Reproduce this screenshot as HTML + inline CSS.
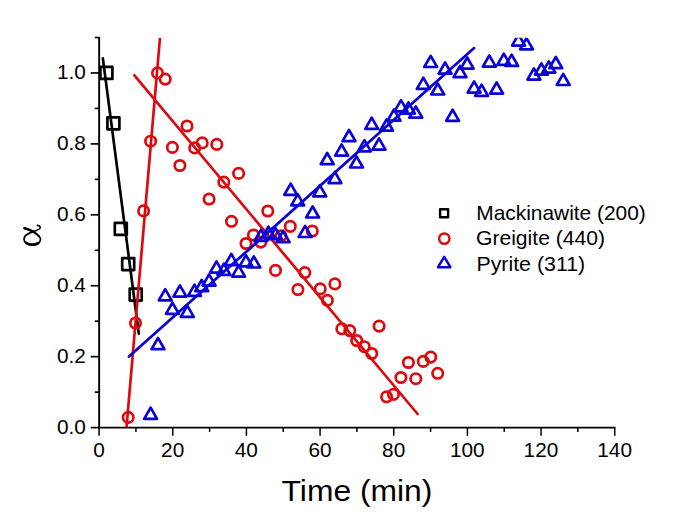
<!DOCTYPE html>
<html><head><meta charset="utf-8"><title>chart</title>
<style>
html,body{margin:0;padding:0;background:#fff;}
body{width:685px;height:525px;overflow:hidden;font-family:"Liberation Sans",sans-serif;}
svg{display:block}
text{font-family:"Liberation Sans",sans-serif;fill:#000}
</style></head><body>
<svg width="685" height="525" viewBox="0 0 685 525">
<rect width="685" height="525" fill="#fff"/>
<defs><clipPath id="pc"><rect x="98" y="37.8" width="518" height="390.7"/></clipPath></defs>

<path d="M99.15 36.9V428.50" stroke="#000" stroke-width="1.9" fill="none"/>
<path d="M98.10 427.60H615.47" stroke="#000" stroke-width="1.8" fill="none"/>
<g stroke="#000" stroke-width="1.5" fill="none">
<path d="M99.10 427.60v8.2"/>
<path d="M135.93 427.60v4.3"/>
<path d="M172.76 427.60v8.2"/>
<path d="M209.59 427.60v4.3"/>
<path d="M246.42 427.60v8.2"/>
<path d="M283.25 427.60v4.3"/>
<path d="M320.08 427.60v8.2"/>
<path d="M356.91 427.60v4.3"/>
<path d="M393.74 427.60v8.2"/>
<path d="M430.57 427.60v4.3"/>
<path d="M467.40 427.60v8.2"/>
<path d="M504.23 427.60v4.3"/>
<path d="M541.06 427.60v8.2"/>
<path d="M577.89 427.60v4.3"/>
<path d="M614.72 427.60v8.2"/>
</g>
<g stroke="#000" stroke-width="1.7" fill="none">
<path d="M99.10 427.60h-8.4"/>
<path d="M99.10 392.14h-4.3"/>
<path d="M99.10 356.67h-8.4"/>
<path d="M99.10 321.21h-4.3"/>
<path d="M99.10 285.74h-8.4"/>
<path d="M99.10 250.28h-4.3"/>
<path d="M99.10 214.81h-8.4"/>
<path d="M99.10 179.35h-4.3"/>
<path d="M99.10 143.88h-8.4"/>
<path d="M99.10 108.42h-4.3"/>
<path d="M99.10 72.95h-8.4"/>
<path d="M99.10 37.49h-4.3"/>
</g>
<text transform="translate(99.00 457.00) scale(1.03 1)" font-size="20.2" text-anchor="middle">0</text>
<text transform="translate(172.66 457.00) scale(1.03 1)" font-size="20.2" text-anchor="middle">20</text>
<text transform="translate(246.32 457.00) scale(1.03 1)" font-size="20.2" text-anchor="middle">40</text>
<text transform="translate(319.98 457.00) scale(1.03 1)" font-size="20.2" text-anchor="middle">60</text>
<text transform="translate(393.64 457.00) scale(1.03 1)" font-size="20.2" text-anchor="middle">80</text>
<text transform="translate(467.30 457.00) scale(1.03 1)" font-size="20.2" text-anchor="middle">100</text>
<text transform="translate(540.96 457.00) scale(1.03 1)" font-size="20.2" text-anchor="middle">120</text>
<text transform="translate(614.62 457.00) scale(1.03 1)" font-size="20.2" text-anchor="middle">140</text>
<text transform="translate(85.90 433.50) scale(1.03 1)" font-size="20.2" text-anchor="end">0.0</text>
<text transform="translate(85.90 362.57) scale(1.03 1)" font-size="20.2" text-anchor="end">0.2</text>
<text transform="translate(85.90 291.64) scale(1.03 1)" font-size="20.2" text-anchor="end">0.4</text>
<text transform="translate(85.90 220.71) scale(1.03 1)" font-size="20.2" text-anchor="end">0.6</text>
<text transform="translate(85.90 149.78) scale(1.03 1)" font-size="20.2" text-anchor="end">0.8</text>
<text transform="translate(85.90 78.85) scale(1.03 1)" font-size="20.2" text-anchor="end">1.0</text>
<text transform="translate(357.00 501.00) scale(1.054 1)" font-size="30.2" text-anchor="middle">Time (min)</text>
<g fill="none" stroke="#000" stroke-linecap="round" stroke-linejoin="round" role="img" aria-label="α"><title>α</title>
<path stroke-width="1.7" d="M24.2 228.2C28 229.2 32 230.9 35 232.9C38.5 235.2 40.5 237.4 40.5 239.4C40.5 242.7 36.8 244.9 32.2 244.9C27.6 244.9 24.0 242.5 24.0 239.2C24.0 236.5 26.5 234.3 30 232.9C34 231.3 38 230.4 39.8 228.5C40.8 227.3 40.2 225.7 37.3 225.4"/>
<path stroke-width="2.8" d="M38 243.2C36.2 244.3 34.2 244.6 32.2 244.6C30.2 244.6 28 244.2 26.4 243"/>
<path stroke-width="2.7" d="M24.6 228.3C27.5 229 30.5 230.2 33 231.7"/>
<path stroke-width="2.1" d="M33 231.7C35.5 233.2 37.8 234.8 39 236.3"/>
</g>
<g clip-path="url(#pc)">
<path d="M102.85 58.3L138.8 333.6" stroke="#000" stroke-width="2.7" stroke-linecap="round"/>
<rect x="100.40" y="66.90" width="12.0" height="12.0" fill="none" stroke="#000" stroke-width="2.7" stroke-linejoin="round"/>
<rect x="107.40" y="117.30" width="12.0" height="12.0" fill="none" stroke="#000" stroke-width="2.7" stroke-linejoin="round"/>
<rect x="114.80" y="222.80" width="12.0" height="12.0" fill="none" stroke="#000" stroke-width="2.7" stroke-linejoin="round"/>
<rect x="122.20" y="258.10" width="12.0" height="12.0" fill="none" stroke="#000" stroke-width="2.7" stroke-linejoin="round"/>
<rect x="129.70" y="288.60" width="12.0" height="12.0" fill="none" stroke="#000" stroke-width="2.7" stroke-linejoin="round"/>
<path d="M126.5 427.5L160 37.5" stroke="#dc0a0e" stroke-width="2.7"/>
<path d="M134.4 75.3L417.6 414.0" stroke="#dc0a0e" stroke-width="2.7" stroke-linecap="round"/>
<circle cx="128.20" cy="417.40" r="5.2" fill="none" stroke="#dc0a0e" stroke-width="2.7"/>
<circle cx="135.50" cy="323.00" r="5.2" fill="none" stroke="#dc0a0e" stroke-width="2.7"/>
<circle cx="143.60" cy="210.90" r="5.2" fill="none" stroke="#dc0a0e" stroke-width="2.7"/>
<circle cx="150.60" cy="141.20" r="5.2" fill="none" stroke="#dc0a0e" stroke-width="2.7"/>
<circle cx="157.50" cy="72.90" r="5.2" fill="none" stroke="#dc0a0e" stroke-width="2.7"/>
<circle cx="165.20" cy="79.10" r="5.2" fill="none" stroke="#dc0a0e" stroke-width="2.7"/>
<circle cx="172.40" cy="147.40" r="5.2" fill="none" stroke="#dc0a0e" stroke-width="2.7"/>
<circle cx="179.90" cy="165.50" r="5.2" fill="none" stroke="#dc0a0e" stroke-width="2.7"/>
<circle cx="187.00" cy="126.00" r="5.2" fill="none" stroke="#dc0a0e" stroke-width="2.7"/>
<circle cx="194.70" cy="147.90" r="5.2" fill="none" stroke="#dc0a0e" stroke-width="2.7"/>
<circle cx="202.20" cy="142.90" r="5.2" fill="none" stroke="#dc0a0e" stroke-width="2.7"/>
<circle cx="209.10" cy="199.00" r="5.2" fill="none" stroke="#dc0a0e" stroke-width="2.7"/>
<circle cx="216.80" cy="144.40" r="5.2" fill="none" stroke="#dc0a0e" stroke-width="2.7"/>
<circle cx="223.80" cy="182.10" r="5.2" fill="none" stroke="#dc0a0e" stroke-width="2.7"/>
<circle cx="231.50" cy="221.30" r="5.2" fill="none" stroke="#dc0a0e" stroke-width="2.7"/>
<circle cx="238.60" cy="173.40" r="5.2" fill="none" stroke="#dc0a0e" stroke-width="2.7"/>
<circle cx="246.00" cy="243.50" r="5.2" fill="none" stroke="#dc0a0e" stroke-width="2.7"/>
<circle cx="253.40" cy="235.00" r="5.2" fill="none" stroke="#dc0a0e" stroke-width="2.7"/>
<circle cx="260.80" cy="242.10" r="5.2" fill="none" stroke="#dc0a0e" stroke-width="2.7"/>
<circle cx="267.80" cy="211.00" r="5.2" fill="none" stroke="#dc0a0e" stroke-width="2.7"/>
<circle cx="275.50" cy="270.40" r="5.2" fill="none" stroke="#dc0a0e" stroke-width="2.7"/>
<circle cx="281.00" cy="235.80" r="5.2" fill="none" stroke="#dc0a0e" stroke-width="2.7"/>
<circle cx="290.30" cy="226.40" r="5.2" fill="none" stroke="#dc0a0e" stroke-width="2.7"/>
<circle cx="297.90" cy="289.60" r="5.2" fill="none" stroke="#dc0a0e" stroke-width="2.7"/>
<circle cx="304.80" cy="272.60" r="5.2" fill="none" stroke="#dc0a0e" stroke-width="2.7"/>
<circle cx="312.30" cy="231.00" r="5.2" fill="none" stroke="#dc0a0e" stroke-width="2.7"/>
<circle cx="320.20" cy="288.90" r="5.2" fill="none" stroke="#dc0a0e" stroke-width="2.7"/>
<circle cx="327.40" cy="300.30" r="5.2" fill="none" stroke="#dc0a0e" stroke-width="2.7"/>
<circle cx="334.90" cy="283.90" r="5.2" fill="none" stroke="#dc0a0e" stroke-width="2.7"/>
<circle cx="341.80" cy="328.80" r="5.2" fill="none" stroke="#dc0a0e" stroke-width="2.7"/>
<circle cx="349.80" cy="330.60" r="5.2" fill="none" stroke="#dc0a0e" stroke-width="2.7"/>
<circle cx="356.70" cy="340.50" r="5.2" fill="none" stroke="#dc0a0e" stroke-width="2.7"/>
<circle cx="364.30" cy="346.70" r="5.2" fill="none" stroke="#dc0a0e" stroke-width="2.7"/>
<circle cx="371.70" cy="353.50" r="5.2" fill="none" stroke="#dc0a0e" stroke-width="2.7"/>
<circle cx="379.10" cy="326.10" r="5.2" fill="none" stroke="#dc0a0e" stroke-width="2.7"/>
<circle cx="386.60" cy="396.80" r="5.2" fill="none" stroke="#dc0a0e" stroke-width="2.7"/>
<circle cx="393.50" cy="394.40" r="5.2" fill="none" stroke="#dc0a0e" stroke-width="2.7"/>
<circle cx="400.90" cy="377.50" r="5.2" fill="none" stroke="#dc0a0e" stroke-width="2.7"/>
<circle cx="408.40" cy="362.50" r="5.2" fill="none" stroke="#dc0a0e" stroke-width="2.7"/>
<circle cx="415.80" cy="378.70" r="5.2" fill="none" stroke="#dc0a0e" stroke-width="2.7"/>
<circle cx="423.30" cy="361.40" r="5.2" fill="none" stroke="#dc0a0e" stroke-width="2.7"/>
<circle cx="430.70" cy="357.10" r="5.2" fill="none" stroke="#dc0a0e" stroke-width="2.7"/>
<circle cx="437.70" cy="373.30" r="5.2" fill="none" stroke="#dc0a0e" stroke-width="2.7"/>
<path d="M129 356.6L474.1 48.1" stroke="#0a00d8" stroke-width="2.7" stroke-linecap="round"/>
<path d="M150.60 407.70L157.05 418.90L144.15 418.90Z" fill="none" stroke="#0a00d8" stroke-width="2.7" stroke-linejoin="round"/>
<path d="M158.00 338.00L164.45 349.20L151.55 349.20Z" fill="none" stroke="#0a00d8" stroke-width="2.7" stroke-linejoin="round"/>
<path d="M165.20 289.10L171.65 300.30L158.75 300.30Z" fill="none" stroke="#0a00d8" stroke-width="2.7" stroke-linejoin="round"/>
<path d="M172.40 302.60L178.85 313.80L165.95 313.80Z" fill="none" stroke="#0a00d8" stroke-width="2.7" stroke-linejoin="round"/>
<path d="M179.90 285.40L186.35 296.60L173.45 296.60Z" fill="none" stroke="#0a00d8" stroke-width="2.7" stroke-linejoin="round"/>
<path d="M187.30 305.70L193.75 316.90L180.85 316.90Z" fill="none" stroke="#0a00d8" stroke-width="2.7" stroke-linejoin="round"/>
<path d="M194.50 284.70L200.95 295.90L188.05 295.90Z" fill="none" stroke="#0a00d8" stroke-width="2.7" stroke-linejoin="round"/>
<path d="M201.70 280.00L208.15 291.20L195.25 291.20Z" fill="none" stroke="#0a00d8" stroke-width="2.7" stroke-linejoin="round"/>
<path d="M209.10 274.40L215.55 285.60L202.65 285.60Z" fill="none" stroke="#0a00d8" stroke-width="2.7" stroke-linejoin="round"/>
<path d="M216.50 261.40L222.95 272.60L210.05 272.60Z" fill="none" stroke="#0a00d8" stroke-width="2.7" stroke-linejoin="round"/>
<path d="M223.90 263.60L230.35 274.80L217.45 274.80Z" fill="none" stroke="#0a00d8" stroke-width="2.7" stroke-linejoin="round"/>
<path d="M231.30 253.90L237.75 265.10L224.85 265.10Z" fill="none" stroke="#0a00d8" stroke-width="2.7" stroke-linejoin="round"/>
<path d="M238.60 265.40L245.05 276.60L232.15 276.60Z" fill="none" stroke="#0a00d8" stroke-width="2.7" stroke-linejoin="round"/>
<path d="M246.00 255.10L252.45 266.30L239.55 266.30Z" fill="none" stroke="#0a00d8" stroke-width="2.7" stroke-linejoin="round"/>
<path d="M253.80 256.30L260.25 267.50L247.35 267.50Z" fill="none" stroke="#0a00d8" stroke-width="2.7" stroke-linejoin="round"/>
<path d="M261.00 229.60L267.45 240.80L254.55 240.80Z" fill="none" stroke="#0a00d8" stroke-width="2.7" stroke-linejoin="round"/>
<path d="M268.40 226.70L274.85 237.90L261.95 237.90Z" fill="none" stroke="#0a00d8" stroke-width="2.7" stroke-linejoin="round"/>
<path d="M275.40 228.00L281.85 239.20L268.95 239.20Z" fill="none" stroke="#0a00d8" stroke-width="2.7" stroke-linejoin="round"/>
<path d="M283.10 231.00L289.55 242.20L276.65 242.20Z" fill="none" stroke="#0a00d8" stroke-width="2.7" stroke-linejoin="round"/>
<path d="M290.70 183.60L297.15 194.80L284.25 194.80Z" fill="none" stroke="#0a00d8" stroke-width="2.7" stroke-linejoin="round"/>
<path d="M297.70 194.20L304.15 205.40L291.25 205.40Z" fill="none" stroke="#0a00d8" stroke-width="2.7" stroke-linejoin="round"/>
<path d="M305.10 225.80L311.55 237.00L298.65 237.00Z" fill="none" stroke="#0a00d8" stroke-width="2.7" stroke-linejoin="round"/>
<path d="M312.60 206.30L319.05 217.50L306.15 217.50Z" fill="none" stroke="#0a00d8" stroke-width="2.7" stroke-linejoin="round"/>
<path d="M319.80 185.20L326.25 196.40L313.35 196.40Z" fill="none" stroke="#0a00d8" stroke-width="2.7" stroke-linejoin="round"/>
<path d="M327.20 153.00L333.65 164.20L320.75 164.20Z" fill="none" stroke="#0a00d8" stroke-width="2.7" stroke-linejoin="round"/>
<path d="M334.90 171.90L341.35 183.10L328.45 183.10Z" fill="none" stroke="#0a00d8" stroke-width="2.7" stroke-linejoin="round"/>
<path d="M341.60 144.40L348.05 155.60L335.15 155.60Z" fill="none" stroke="#0a00d8" stroke-width="2.7" stroke-linejoin="round"/>
<path d="M349.00 130.00L355.45 141.20L342.55 141.20Z" fill="none" stroke="#0a00d8" stroke-width="2.7" stroke-linejoin="round"/>
<path d="M356.50 156.30L362.95 167.50L350.05 167.50Z" fill="none" stroke="#0a00d8" stroke-width="2.7" stroke-linejoin="round"/>
<path d="M364.40 140.10L370.85 151.30L357.95 151.30Z" fill="none" stroke="#0a00d8" stroke-width="2.7" stroke-linejoin="round"/>
<path d="M371.70 117.60L378.15 128.80L365.25 128.80Z" fill="none" stroke="#0a00d8" stroke-width="2.7" stroke-linejoin="round"/>
<path d="M379.00 138.40L385.45 149.60L372.55 149.60Z" fill="none" stroke="#0a00d8" stroke-width="2.7" stroke-linejoin="round"/>
<path d="M386.60 119.40L393.05 130.60L380.15 130.60Z" fill="none" stroke="#0a00d8" stroke-width="2.7" stroke-linejoin="round"/>
<path d="M394.00 109.40L400.45 120.60L387.55 120.60Z" fill="none" stroke="#0a00d8" stroke-width="2.7" stroke-linejoin="round"/>
<path d="M401.00 100.20L407.45 111.40L394.55 111.40Z" fill="none" stroke="#0a00d8" stroke-width="2.7" stroke-linejoin="round"/>
<path d="M408.40 102.40L414.85 113.60L401.95 113.60Z" fill="none" stroke="#0a00d8" stroke-width="2.7" stroke-linejoin="round"/>
<path d="M415.80 106.50L422.25 117.70L409.35 117.70Z" fill="none" stroke="#0a00d8" stroke-width="2.7" stroke-linejoin="round"/>
<path d="M423.30 77.70L429.75 88.90L416.85 88.90Z" fill="none" stroke="#0a00d8" stroke-width="2.7" stroke-linejoin="round"/>
<path d="M430.70 55.80L437.15 67.00L424.25 67.00Z" fill="none" stroke="#0a00d8" stroke-width="2.7" stroke-linejoin="round"/>
<path d="M437.70 83.30L444.15 94.50L431.25 94.50Z" fill="none" stroke="#0a00d8" stroke-width="2.7" stroke-linejoin="round"/>
<path d="M445.10 62.50L451.55 73.70L438.65 73.70Z" fill="none" stroke="#0a00d8" stroke-width="2.7" stroke-linejoin="round"/>
<path d="M452.60 109.60L459.05 120.80L446.15 120.80Z" fill="none" stroke="#0a00d8" stroke-width="2.7" stroke-linejoin="round"/>
<path d="M460.00 66.00L466.45 77.20L453.55 77.20Z" fill="none" stroke="#0a00d8" stroke-width="2.7" stroke-linejoin="round"/>
<path d="M467.20 57.50L473.65 68.70L460.75 68.70Z" fill="none" stroke="#0a00d8" stroke-width="2.7" stroke-linejoin="round"/>
<path d="M474.10 81.40L480.55 92.60L467.65 92.60Z" fill="none" stroke="#0a00d8" stroke-width="2.7" stroke-linejoin="round"/>
<path d="M481.60 84.60L488.05 95.80L475.15 95.80Z" fill="none" stroke="#0a00d8" stroke-width="2.7" stroke-linejoin="round"/>
<path d="M489.30 55.50L495.75 66.70L482.85 66.70Z" fill="none" stroke="#0a00d8" stroke-width="2.7" stroke-linejoin="round"/>
<path d="M496.60 82.40L503.05 93.60L490.15 93.60Z" fill="none" stroke="#0a00d8" stroke-width="2.7" stroke-linejoin="round"/>
<path d="M503.80 53.70L510.25 64.90L497.35 64.90Z" fill="none" stroke="#0a00d8" stroke-width="2.7" stroke-linejoin="round"/>
<path d="M511.60 54.60L518.05 65.80L505.15 65.80Z" fill="none" stroke="#0a00d8" stroke-width="2.7" stroke-linejoin="round"/>
<path d="M518.50 34.40L524.95 45.60L512.05 45.60Z" fill="none" stroke="#0a00d8" stroke-width="2.7" stroke-linejoin="round"/>
<path d="M526.50 38.10L532.95 49.30L520.05 49.30Z" fill="none" stroke="#0a00d8" stroke-width="2.7" stroke-linejoin="round"/>
<path d="M533.90 68.40L540.35 79.60L527.45 79.60Z" fill="none" stroke="#0a00d8" stroke-width="2.7" stroke-linejoin="round"/>
<path d="M541.40 63.40L547.85 74.60L534.95 74.60Z" fill="none" stroke="#0a00d8" stroke-width="2.7" stroke-linejoin="round"/>
<path d="M548.80 61.40L555.25 72.60L542.35 72.60Z" fill="none" stroke="#0a00d8" stroke-width="2.7" stroke-linejoin="round"/>
<path d="M555.80 57.00L562.25 68.20L549.35 68.20Z" fill="none" stroke="#0a00d8" stroke-width="2.7" stroke-linejoin="round"/>
<path d="M563.20 73.80L569.65 85.00L556.75 85.00Z" fill="none" stroke="#0a00d8" stroke-width="2.7" stroke-linejoin="round"/>
</g>
<rect x="440.10" y="209.20" width="8.0" height="8.0" fill="none" stroke="#000" stroke-width="2.4" stroke-linejoin="round"/>
<circle cx="444.30" cy="238.60" r="5.15" fill="none" stroke="#dc0a0e" stroke-width="2.5"/>
<path d="M444.20 256.80L450.40 267.20L438.00 267.20Z" fill="none" stroke="#0a00d8" stroke-width="2.5" stroke-linejoin="round"/>
<text transform="translate(476.30 219.60) scale(1.045 1)" font-size="20.0" text-anchor="start">Mackinawite (200)</text>
<text transform="translate(476.00 245.30) scale(1.056 1)" font-size="20.0" text-anchor="start">Greigite (440)</text>
<text transform="translate(476.40 270.90) scale(1.068 1)" font-size="20.0" text-anchor="start">Pyrite (311)</text>
</svg></body></html>
